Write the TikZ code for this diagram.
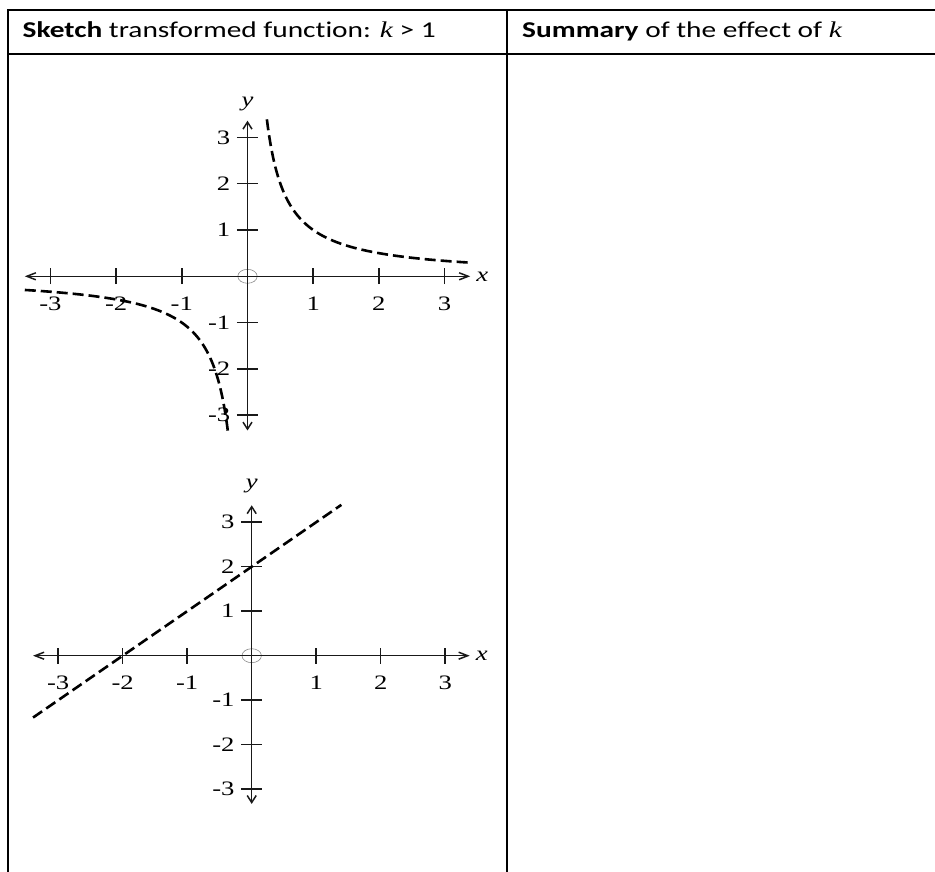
\documentclass[tikz,border=0pt]{standalone}
\usepackage{fontspec}
\setmainfont{Carlito}[FakeStretch=1.3, Ligatures=NoCommon]
\newfontfamily\plotfont{Liberation Serif}[FakeStretch=1.3]
\usetikzlibrary{positioning, arrows.meta}

\begin{document}
\begin{tikzpicture}[
    x=1pt, y=1pt,
    rule/.style={line width=2pt, black},
    header/.style={anchor=base west, inner sep=0pt, font=\fontsize{22.6}{27}\selectfont},
    xaxis/.style={line width=1.5pt, black!90, {Straight Barb[length=9pt, width=7pt]}-{Straight Barb[length=9pt, width=7pt]}},
    yaxis/.style={line width=1.5pt, black!90, {Straight Barb[length=7pt, width=9pt]}-{Straight Barb[length=7pt, width=9pt]}},
    tickmark/.style={line width=1.5pt, black!90},
    graph/.style={line width=2.6pt, black, dash pattern=on 11pt off 5pt},
    ticklabel/.style={inner sep=0pt, font=\plotfont\fontsize{20.5}{21}\selectfont},
    axislabel/.style={inner sep=0pt, font=\plotfont\itshape\fontsize{20.5}{21}\selectfont},
    origin/.style={draw=black!45, line width=0.6pt}
]

\useasboundingbox (0,0) rectangle (935,-872);

% Table
\draw[rule] (7.5,-872) -- (7.5,-10) -- (935,-10);
\draw[rule] (7.5,-54) -- (935,-54);
\draw[rule] (507,-10) -- (507,-872);

\node (sketch) [header] at (22.5,-37.5) {\textbf{Sketch} transformed function: {\plotfont\itshape k} > 1};
\node (summary) [header] at (522,-37.5) {\textbf{Summary} of the effect of {\plotfont\itshape k}};

% Graph 1: y = 1/x
\begin{scope}[shift={(247.5pt,-276.3pt)}, x=65.7pt, y=46.3pt]
  \draw[origin] (0,0) ellipse [x radius=9.7pt, y radius=7pt];
  \draw[xaxis] (-3.39,0) coordinate (xa) -- (3.39,0) coordinate (xb);
  \draw[yaxis] (0,-3.33) coordinate (ya) -- (0,3.36) coordinate (yb);
  \foreach \t [count=\i] in {-3,-2,-1,1,2,3} {
    \draw[tickmark] (\t,-0.17) -- (\t,0.17);
    \draw[tickmark] (-0.16,\t) -- (0.16,\t);
    \node (ax\i) [ticklabel, below=20pt] at (\t,0) {\t};
    \node (ay\i) [ticklabel, left=17pt] at (0,\t) {\t};
  }
  \node (ax) [axislabel, right=6pt of xb] {x};
  \node (ay) [axislabel, above=10pt of yb] {y};
  \draw[graph] plot[domain=-1.2208:1.2208, samples=60, smooth, variable=\s] ({exp(\s)},{exp(-\s)});
  \draw[graph] plot[domain=-1.2208:1.2208, samples=60, smooth, variable=\s] ({-exp(-\s)},{-exp(\s)});
\end{scope}

% Graph 2: y = x + 2
\begin{scope}[shift={(251.7pt,-655.7pt)}, x=64.5pt, y=44.5pt]
  \draw[origin] (0,0) ellipse [x radius=9.7pt, y radius=7pt];
  \draw[xaxis] (-3.39,0) coordinate (xc) -- (3.38,0) coordinate (xd);
  \draw[yaxis] (0,-3.33) coordinate (yc) -- (0,3.38) coordinate (yd);
  \foreach \t [count=\i] in {-3,-2,-1,1,2,3} {
    \draw[tickmark] (\t,-0.18) -- (\t,0.18);
    \draw[tickmark] (-0.163,\t) -- (0.163,\t);
    \node (bx\i) [ticklabel, below=20pt] at (\t,0) {\t};
    \node (by\i) [ticklabel, left=17pt] at (0,\t) {\t};
  }
  \node (bx) [axislabel, right=6pt of xd] {x};
  \node (by) [axislabel, above=12pt of yd] {y};
  \draw[graph] (-3.39,-1.39) -- (1.39,3.39);
\end{scope}

\end{tikzpicture}
\end{document}
